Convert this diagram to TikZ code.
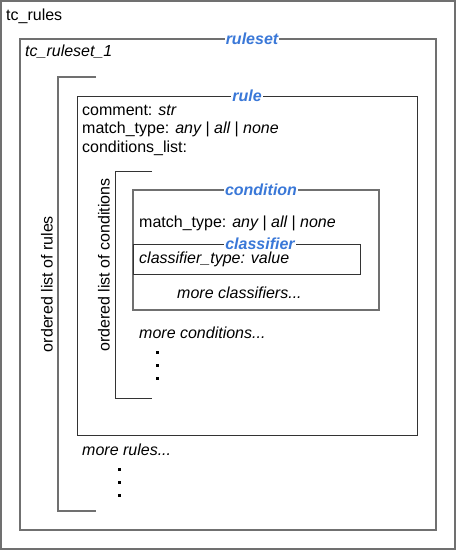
\documentclass[tikz,border=0pt]{standalone}
\usepackage{fontspec}
\setmainfont{Liberation Sans}
\definecolor{lblue}{HTML}{3A78D8}
\definecolor{lgray}{HTML}{707070}
\tikzset{
  frame/.style={draw=lgray, line width=1.4pt},
  thinframe/.style={draw=black!80, line width=1pt},
  txt/.style={anchor=west, inner sep=0pt, font=\fontsize{16}{19}\selectfont},
  ttl/.style={fill=white, inner sep=1pt, text=lblue, font=\fontsize{16}{19}\selectfont\bfseries\itshape},
  vtxt/.style={rotate=90, inner sep=0pt, font=\fontsize{16}{19}\selectfont},
  dotm/.style={fill=black, minimum size=3pt, inner sep=0pt, draw=none}
}
\begin{document}
\begin{tikzpicture}[x=1pt,y=-1pt]
\useasboundingbox (0,0) rectangle (456,550);
% outer
\draw[frame] (1,1) rectangle (455,549);
\node[txt] (tcr) at (6,16) {tc\_rules};
% ruleset
\draw[frame] (20,39) rectangle (436,530);
\node[ttl] (rs) at (252,39) {ruleset};
\node[txt] (rs1) at (25,52) {\itshape tc\_ruleset\_1};
% rules bracket
\coordinate (rb1) at (96,77);
\coordinate (rb2) at (58,77);
\coordinate (rb3) at (58,511);
\coordinate (rb4) at (96,511);
\draw[frame] (rb1) -- (rb2) -- (rb3) -- (rb4);
\node[vtxt] (olr) at (47,284) {ordered list of rules};
% rule
\draw[thinframe] (77,96) rectangle (417,435);
\node[ttl] (rl) at (247,96) {rule};
\node[txt] (cm) at (82,110) {comment: \itshape str};
\node[txt] (mt) at (82,129) {match\_type: \itshape any \upshape| \itshape all \upshape| \itshape none};
\node[txt] (cl) at (82,148) {conditions\_list:};
% conditions bracket
\coordinate (cb1) at (152,171);
\coordinate (cb2) at (115,171);
\coordinate (cb3) at (115,398);
\coordinate (cb4) at (152,398);
\draw[thinframe] (cb1) -- (cb2) -- (cb3) -- (cb4);
\node[vtxt] (olc) at (104,265) {ordered list of conditions};
% condition
\draw[frame] (133,190) rectangle (379,310);
\node[ttl] (cd) at (261,190) {condition};
\node[txt] (mt2) at (139,223) {match\_type: \itshape any \upshape| \itshape all \upshape| \itshape none};
% classifier
\draw[thinframe] (133,244) rectangle (360,274);
\node[ttl] (cf) at (260,244) {classifier};
\node[txt] (ct) at (139,259) {\itshape classifier\_type: value};
\node[txt] (mc) at (177,293) {\itshape more classifiers...};
\node[txt] (mco) at (139,333) {\itshape more conditions...};
\node[dotm] (d1) at (157,352) {};
\node[dotm] (d2) at (157,365) {};
\node[dotm] (d3) at (157,378) {};
\node[txt] (mr) at (82,450) {\itshape more rules...};
\node[dotm] (e1) at (119,469) {};
\node[dotm] (e2) at (119,482) {};
\node[dotm] (e3) at (119,495) {};
\end{tikzpicture}
\end{document}
